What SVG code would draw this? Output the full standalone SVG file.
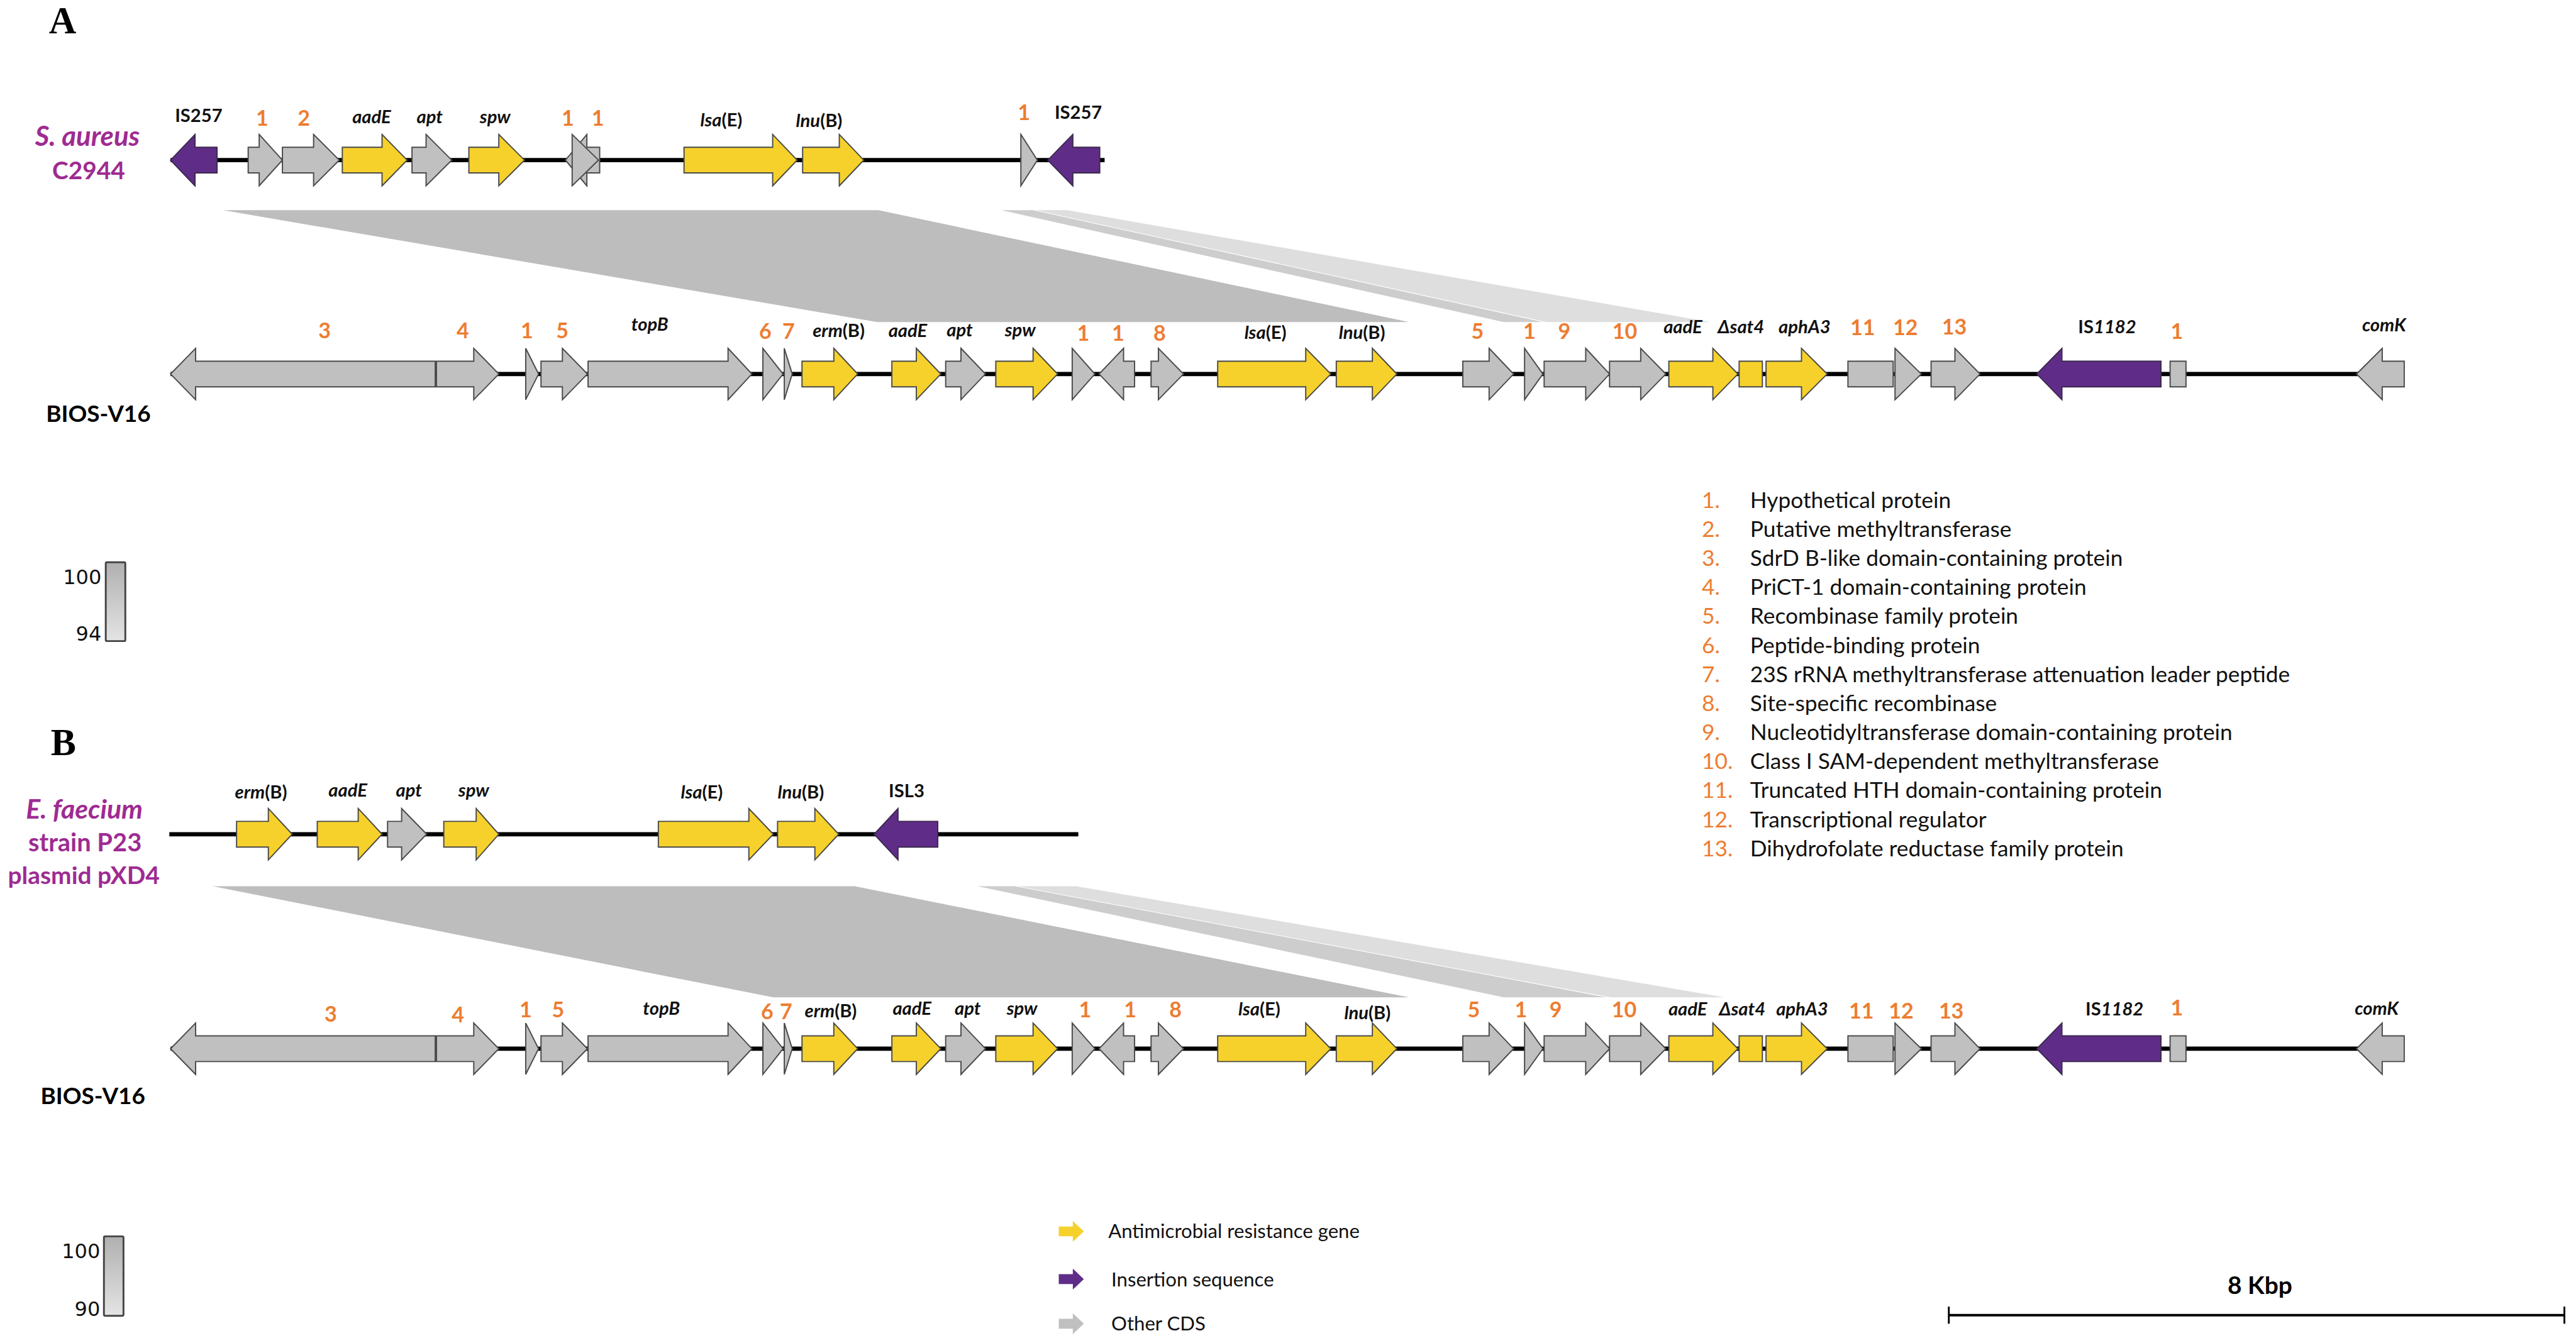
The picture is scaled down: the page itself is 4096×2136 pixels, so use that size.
<svg xmlns="http://www.w3.org/2000/svg" width="4096" height="2136" viewBox="0 0 4096 2136">
<defs>
<linearGradient id="sc" x1="0" y1="0" x2="0" y2="1"><stop offset="0" stop-color="#b0b0b0"/><stop offset="1" stop-color="#e4e4e4"/></linearGradient>
<style>
.g{fill:#c0c0c0;stroke:#4a4a4a;stroke-width:2;stroke-linejoin:miter}
.y{fill:#f6d12b;stroke:#4a4a4a;stroke-width:2}
.p{fill:#5f2d88;stroke:#3b2a4c;stroke-width:2}
.ln{stroke:#000;stroke-width:7;fill:none}
.lb{font-family:Lato,"Liberation Sans",sans-serif;font-weight:700;font-size:30px;text-anchor:middle;fill:#111}
.it{font-style:italic}
.on{font-family:Lato,"Liberation Sans",sans-serif;font-weight:700;font-size:35px;text-anchor:middle;fill:#ed7d31}
.sp{font-family:Lato,"Liberation Sans",sans-serif;font-weight:700;font-size:41px;text-anchor:middle;fill:#9e2b92}
.bios{font-family:Lato,"Liberation Sans",sans-serif;font-weight:700;font-size:38px;text-anchor:middle;fill:#000}
.pl{font-family:"Liberation Serif","Times New Roman",serif;font-weight:700;font-size:62px;fill:#000}
.sv{font-family:"DejaVu Sans",sans-serif;font-size:33px;text-anchor:end;fill:#111}
.lg{font-family:Lato,"Liberation Sans",sans-serif;font-size:36.3px;fill:#111}
.lgn{font-family:Lato,"Liberation Sans",sans-serif;font-size:36.3px;fill:#ed7d31}
.kt{font-family:Lato,"Liberation Sans",sans-serif;font-size:32px;fill:#111}
.r1{fill:#bdbdbd}
.r2{fill:#cdcdcd}
.r3{fill:#dedede}
</style>
</defs>
<rect width="4096" height="2136" fill="#fff"/>
<g transform="scale(0.972)">

<!-- panel letters -->
<text class="pl" x="80" y="55">A</text>
<text class="pl" x="83" y="1236">B</text>

<!-- ribbons (connectors) -->
<g id="connectors">
  <g id="ribbons-A">
    <polygon class="r1" points="365,344 1437,344 2305,527 1435,527"/>
    <polygon class="r2" points="1638,344 1690,344 2524,527 2460,527"/>
    <polygon class="r3" points="1695,344 1746,344 2798,527 2530,527"/>
  </g>
  <g id="ribbons-B">
    <polygon class="r1" points="348,1450 1398,1450 2305,1632 1265,1632"/>
    <polygon class="r2" points="1599,1450 1660,1450 2628,1632 2460,1632"/>
    <polygon class="r3" points="1665,1450 1760,1450 2821,1632 2635,1632"/>
  </g>
</g>

<!-- ===== Panel A: S. aureus C2944 ===== -->
<g id="saureus">
  <text class="sp it" x="143" y="239" style="font-size:45px">S. aureus</text>
  <text class="sp" x="145" y="293" style="font-size:40px">C2944</text>
  <g transform="translate(0,262)">
    <line class="ln" x1="279" y1="0" x2="1807" y2="0"/>
    <g id="a1-IS257a"><path class="p" d="M355 -21H319V-42L279 0L319 42V21H355Z"/><text class="lb" x="325" y="-62">IS257</text></g>
    <g id="a1-g1"><path class="g" d="M406 -21H424V-42L462 0L424 42V21H406Z"/><text class="on" x="429" y="-56">1</text></g>
    <g id="a1-g2"><path class="g" d="M462 -21H513V-42L555 0L513 42V21H462Z"/><text class="on" x="497" y="-56">2</text></g>
    <g id="a1-aadE"><path class="y" d="M560 -21H625V-42L666 0L625 42V21H560Z"/><text class="lb it" x="608" y="-60">aadE</text></g>
    <g id="a1-apt"><path class="g" d="M674 -21H697V-42L739 0L697 42V21H674Z"/><text class="lb it" x="703" y="-60">apt</text></g>
    <g id="a1-spw"><path class="y" d="M767 -21H816V-42L858 0L816 42V21H767Z"/><text class="lb it" x="810" y="-60">spw</text></g>
    <g id="a1-g1b"><path class="g" d="M981 -21H960V-42L925 0L960 42V21H981Z"/><text class="on" x="929" y="-56">1</text></g>
    <g id="a1-g1c"><path class="g" d="M936 -42L979 0L936 42Z"/><text class="on" x="978" y="-56">1</text></g>
    <g id="a1-lsaE"><path class="y" d="M1119 -21H1264V-42L1304 0L1264 42V21H1119Z"/><text class="lb" x="1180" y="-55"><tspan class="it">lsa</tspan>(E)</text></g>
    <g id="a1-lnuB"><path class="y" d="M1313 -21H1373V-42L1413 0L1373 42V21H1313Z"/><text class="lb" x="1340" y="-54"><tspan class="it">lnu</tspan>(B)</text></g>
    <g id="a1-g1d"><path class="g" d="M1670 -42L1697 0L1670 42Z"/><text class="on" x="1675" y="-65">1</text></g>
    <g id="a1-IS257b"><path class="p" d="M1799 -21H1755V-42L1714 0L1755 42V21H1799Z"/><text class="lb" x="1764" y="-68">IS257</text></g>
  </g>
</g>

<!-- ===== Panel A: BIOS-V16 ===== -->
<g id="biosA">
  <text class="bios" x="161" y="690">BIOS-V16</text>
  <g transform="translate(0,612)">
    <line class="ln" x1="279" y1="0" x2="3933" y2="0"/>
    <g id="b1-g3"><path class="g" d="M712 -21H320V-42L279 0L320 42V21H712Z"/><text class="on" x="531" y="-58">3</text></g>
    <g id="b1-g4"><path class="g" d="M714 -21H775V-42L816 0L775 42V21H714Z"/><text class="on" x="757" y="-58">4</text></g>
    <g id="b1-g1"><path class="g" d="M860 -42L881 0L860 42Z"/><text class="on" x="862" y="-58">1</text></g>
    <g id="b1-g5"><path class="g" d="M885 -21H920V-42L961 0L920 42V21H885Z"/><text class="on" x="920" y="-58">5</text></g>
    <g id="b1-topB"><path class="g" d="M962 -21H1191V-42L1230 0L1191 42V21H962Z"/><text class="lb it" x="1063" y="-71">topB</text></g>
    <g id="b1-g6"><path class="g" d="M1248 -42L1281 0L1248 42Z"/><text class="on" x="1252" y="-57">6</text></g>
    <g id="b1-g7"><path class="g" d="M1283 -42L1296 0L1283 42Z"/><text class="on" x="1290" y="-57">7</text></g>
    <g id="b1-ermB"><path class="y" d="M1312 -21H1364V-42L1403 0L1364 42V21H1312Z"/><text class="lb" x="1372" y="-61"><tspan class="it">erm</tspan>(B)</text></g>
    <g id="b1-aadE"><path class="y" d="M1459 -21H1499V-42L1539 0L1499 42V21H1459Z"/><text class="lb it" x="1485" y="-61">aadE</text></g>
    <g id="b1-apt"><path class="g" d="M1547 -21H1572V-42L1612 0L1572 42V21H1547Z"/><text class="lb it" x="1570" y="-62">apt</text></g>
    <g id="b1-spw"><path class="y" d="M1629 -21H1690V-42L1730 0L1690 42V21H1629Z"/><text class="lb it" x="1669" y="-62">spw</text></g>
    <g id="b1-g1b"><path class="g" d="M1754 -42L1791 0L1754 42Z"/><text class="on" x="1772" y="-54">1</text></g>
    <g id="b1-g1c"><path class="g" d="M1856 -21H1838V-42L1798 0L1838 42V21H1856Z"/><text class="on" x="1829" y="-54">1</text></g>
    <g id="b1-g8"><path class="g" d="M1883 -21H1895V-42L1936 0L1895 42V21H1883Z"/><text class="on" x="1897" y="-54">8</text></g>
    <g id="b1-lsaE"><path class="y" d="M1992 -21H2136V-42L2177 0L2136 42V21H1992Z"/><text class="lb" x="2070" y="-57"><tspan class="it">lsa</tspan>(E)</text></g>
    <g id="b1-lnuB"><path class="y" d="M2186 -21H2245V-42L2285 0L2245 42V21H2186Z"/><text class="lb" x="2228" y="-57"><tspan class="it">lnu</tspan>(B)</text></g>
    <g id="b1-g5b"><path class="g" d="M2393 -21H2436V-42L2476 0L2436 42V21H2393Z"/><text class="on" x="2417" y="-57">5</text></g>
    <g id="b1-g1d"><path class="g" d="M2494 -42L2524 0L2494 42Z"/><text class="on" x="2502" y="-57">1</text></g>
    <g id="b1-g9"><path class="g" d="M2526 -21H2594V-42L2633 0L2594 42V21H2526Z"/><text class="on" x="2559" y="-57">9</text></g>
    <g id="b1-g10"><path class="g" d="M2633 -21H2684V-42L2725 0L2684 42V21H2633Z"/><text class="on" x="2658" y="-57">10</text></g>
    <g id="b1-aadE2"><path class="y" d="M2730 -21H2802V-42L2843 0L2802 42V21H2730Z"/><text class="lb it" x="2753" y="-67">aadE</text></g>
    <g id="b1-sat4"><path class="y" d="M2845 -21H2883V21H2845Z"/><text class="lb it" x="2848" y="-67">Δsat4</text></g>
    <g id="b1-aphA3"><path class="y" d="M2889 -21H2947V-42L2989 0L2947 42V21H2889Z"/><text class="lb it" x="2952" y="-67">aphA3</text></g>
    <g id="b1-g11"><path class="g" d="M3023 -21H3097V21H3023Z"/><text class="on" x="3047" y="-64">11</text></g>
    <g id="b1-g12"><path class="g" d="M3100 -42L3143 0L3100 42Z"/><text class="on" x="3117" y="-64">12</text></g>
    <g id="b1-g13"><path class="g" d="M3159 -21H3198V-42L3239 0L3198 42V21H3159Z"/><text class="on" x="3197" y="-65">13</text></g>
    <g id="b1-IS1182"><path class="p" d="M3535 -21H3373V-42L3332 0L3373 42V21H3535Z"/><text class="lb" x="3447" y="-67">IS<tspan class="it">1182</tspan></text></g>
    <g id="b1-g1e"><path class="g" d="M3550 -21H3576V21H3550Z"/><text class="on" x="3561" y="-57">1</text></g>
    <g id="b1-comK"><path class="g" d="M3933 -21H3897V-42L3855 0L3897 42V21H3933Z"/><text class="lb it" x="3900" y="-70">comK</text></g>
  </g>
</g>

<!-- scale A -->
<g id="identityA">
  <rect x="173" y="920" width="32" height="129" rx="2" fill="url(#sc)" stroke="#444" stroke-width="3"/>
  <text class="sv" x="166" y="956">100</text>
  <text class="sv" x="166" y="1048">94</text>
</g>

<!-- legend list -->
<g id="gene-key">
  <text class="lgn" x="2784" y="831">1.</text><text class="lg" x="2863" y="831">Hypothetical protein</text>
  <text class="lgn" x="2784" y="878.5">2.</text><text class="lg" x="2863" y="878.5">Putative methyltransferase</text>
  <text class="lgn" x="2784" y="926">3.</text><text class="lg" x="2863" y="926">SdrD B-like domain-containing protein</text>
  <text class="lgn" x="2784" y="973.5">4.</text><text class="lg" x="2863" y="973.5">PriCT-1 domain-containing protein</text>
  <text class="lgn" x="2784" y="1021">5.</text><text class="lg" x="2863" y="1021">Recombinase family protein</text>
  <text class="lgn" x="2784" y="1068.5">6.</text><text class="lg" x="2863" y="1068.5">Peptide-binding protein</text>
  <text class="lgn" x="2784" y="1116">7.</text><text class="lg" x="2863" y="1116">23S rRNA methyltransferase attenuation leader peptide</text>
  <text class="lgn" x="2784" y="1163.5">8.</text><text class="lg" x="2863" y="1163.5">Site-specific recombinase</text>
  <text class="lgn" x="2784" y="1211">9.</text><text class="lg" x="2863" y="1211">Nucleotidyltransferase domain-containing protein</text>
  <text class="lgn" x="2784" y="1258.5">10.</text><text class="lg" x="2863" y="1258.5">Class I SAM-dependent methyltransferase</text>
  <text class="lgn" x="2784" y="1306">11.</text><text class="lg" x="2863" y="1306">Truncated HTH domain-containing protein</text>
  <text class="lgn" x="2784" y="1353.5">12.</text><text class="lg" x="2863" y="1353.5">Transcriptional regulator</text>
  <text class="lgn" x="2784" y="1401">13.</text><text class="lg" x="2863" y="1401">Dihydrofolate reductase family protein</text>
</g>

<!-- ===== Panel B: E. faecium ===== -->
<g id="efaecium">
  <text class="sp it" x="138" y="1340" style="font-size:44px">E. faecium</text>
  <text class="sp" x="139" y="1393">strain P23</text>
  <text class="sp" x="137" y="1446" style="font-size:40px">plasmid pXD4</text>
  <g transform="translate(0,1365)">
    <line class="ln" x1="277" y1="0" x2="1764" y2="0"/>
    <g id="a2-ermB"><path class="y" d="M387 -21H439V-42L478 0L439 42V21H387Z"/><text class="lb" x="427" y="-58"><tspan class="it">erm</tspan>(B)</text></g>
    <g id="a2-aadE"><path class="y" d="M519 -21H586V-42L625 0L586 42V21H519Z"/><text class="lb it" x="569" y="-62">aadE</text></g>
    <g id="a2-apt"><path class="g" d="M634 -21H657V-42L698 0L657 42V21H634Z"/><text class="lb it" x="669" y="-62">apt</text></g>
    <g id="a2-spw"><path class="y" d="M726 -21H779V-42L816 0L779 42V21H726Z"/><text class="lb it" x="775" y="-62">spw</text></g>
    <g id="a2-lsaE"><path class="y" d="M1077 -21H1225V-42L1265 0L1225 42V21H1077Z"/><text class="lb" x="1148" y="-58"><tspan class="it">lsa</tspan>(E)</text></g>
    <g id="a2-lnuB"><path class="y" d="M1272 -21H1333V-42L1372 0L1333 42V21H1272Z"/><text class="lb" x="1310" y="-58"><tspan class="it">lnu</tspan>(B)</text></g>
    <g id="a2-ISL3"><path class="p" d="M1534 -21H1469V-42L1430 0L1469 42V21H1534Z"/><text class="lb" x="1483" y="-60">ISL3</text></g>
  </g>
</g>

<!-- ===== Panel B: BIOS-V16 ===== -->
<g id="biosB">
  <text class="bios" x="152" y="1807">BIOS-V16</text>
  <g transform="translate(0,1716)">
    <line class="ln" x1="279" y1="0" x2="3933" y2="0"/>
    <g id="b2-g3"><path class="g" d="M712 -21H320V-42L279 0L320 42V21H712Z"/><text class="on" x="541" y="-44">3</text></g>
    <g id="b2-g4"><path class="g" d="M714 -21H775V-42L816 0L775 42V21H714Z"/><text class="on" x="749" y="-43">4</text></g>
    <g id="b2-g1"><path class="g" d="M860 -42L881 0L860 42Z"/><text class="on" x="860" y="-51">1</text></g>
    <g id="b2-g5"><path class="g" d="M885 -21H920V-42L961 0L920 42V21H885Z"/><text class="on" x="913" y="-51">5</text></g>
    <g id="b2-topB"><path class="g" d="M962 -21H1191V-42L1230 0L1191 42V21H962Z"/><text class="lb it" x="1082" y="-56">topB</text></g>
    <g id="b2-g6"><path class="g" d="M1248 -42L1281 0L1248 42Z"/><text class="on" x="1255" y="-48">6</text></g>
    <g id="b2-g7"><path class="g" d="M1283 -42L1296 0L1283 42Z"/><text class="on" x="1286" y="-48">7</text></g>
    <g id="b2-ermB"><path class="y" d="M1312 -21H1364V-42L1403 0L1364 42V21H1312Z"/><text class="lb" x="1359" y="-51"><tspan class="it">erm</tspan>(B)</text></g>
    <g id="b2-aadE"><path class="y" d="M1459 -21H1499V-42L1539 0L1499 42V21H1459Z"/><text class="lb it" x="1492" y="-56">aadE</text></g>
    <g id="b2-apt"><path class="g" d="M1547 -21H1572V-42L1612 0L1572 42V21H1547Z"/><text class="lb it" x="1583" y="-56">apt</text></g>
    <g id="b2-spw"><path class="y" d="M1629 -21H1690V-42L1730 0L1690 42V21H1629Z"/><text class="lb it" x="1672" y="-56">spw</text></g>
    <g id="b2-g1b"><path class="g" d="M1754 -42L1791 0L1754 42Z"/><text class="on" x="1775" y="-51">1</text></g>
    <g id="b2-g1c"><path class="g" d="M1856 -21H1838V-42L1798 0L1838 42V21H1856Z"/><text class="on" x="1849" y="-51">1</text></g>
    <g id="b2-g8"><path class="g" d="M1883 -21H1895V-42L1936 0L1895 42V21H1883Z"/><text class="on" x="1923" y="-51">8</text></g>
    <g id="b2-lsaE"><path class="y" d="M1992 -21H2136V-42L2177 0L2136 42V21H1992Z"/><text class="lb" x="2060" y="-54"><tspan class="it">lsa</tspan>(E)</text></g>
    <g id="b2-lnuB"><path class="y" d="M2186 -21H2245V-42L2285 0L2245 42V21H2186Z"/><text class="lb" x="2237" y="-48"><tspan class="it">lnu</tspan>(B)</text></g>
    <g id="b2-g5b"><path class="g" d="M2393 -21H2436V-42L2476 0L2436 42V21H2393Z"/><text class="on" x="2411" y="-51">5</text></g>
    <g id="b2-g1d"><path class="g" d="M2494 -42L2524 0L2494 42Z"/><text class="on" x="2488" y="-51">1</text></g>
    <g id="b2-g9"><path class="g" d="M2526 -21H2594V-42L2633 0L2594 42V21H2526Z"/><text class="on" x="2545" y="-51">9</text></g>
    <g id="b2-g10"><path class="g" d="M2633 -21H2684V-42L2725 0L2684 42V21H2633Z"/><text class="on" x="2657" y="-51">10</text></g>
    <g id="b2-aadE2"><path class="y" d="M2730 -21H2802V-42L2843 0L2802 42V21H2730Z"/><text class="lb it" x="2761" y="-54">aadE</text></g>
    <g id="b2-sat4"><path class="y" d="M2845 -21H2883V21H2845Z"/><text class="lb it" x="2850" y="-54">Δsat4</text></g>
    <g id="b2-aphA3"><path class="y" d="M2889 -21H2947V-42L2989 0L2947 42V21H2889Z"/><text class="lb it" x="2948" y="-54">aphA3</text></g>
    <g id="b2-g11"><path class="g" d="M3023 -21H3097V21H3023Z"/><text class="on" x="3045" y="-49">11</text></g>
    <g id="b2-g12"><path class="g" d="M3100 -42L3143 0L3100 42Z"/><text class="on" x="3110" y="-49">12</text></g>
    <g id="b2-g13"><path class="g" d="M3159 -21H3198V-42L3239 0L3198 42V21H3159Z"/><text class="on" x="3192" y="-49">13</text></g>
    <g id="b2-IS1182"><path class="p" d="M3535 -21H3373V-42L3332 0L3373 42V21H3535Z"/><text class="lb" x="3459" y="-54">IS<tspan class="it">1182</tspan></text></g>
    <g id="b2-g1e"><path class="g" d="M3550 -21H3576V21H3550Z"/><text class="on" x="3561" y="-54">1</text></g>
    <g id="b2-comK"><path class="g" d="M3933 -21H3897V-42L3855 0L3897 42V21H3933Z"/><text class="lb it" x="3888" y="-56">comK</text></g>
  </g>
</g>

<!-- scale B -->
<g id="identityB">
  <rect x="170" y="2023" width="32" height="130" rx="2" fill="url(#sc)" stroke="#444" stroke-width="3"/>
  <text class="sv" x="164" y="2059">100</text>
  <text class="sv" x="164" y="2153">90</text>
</g>

<!-- type legend -->
<g id="type-key">
  <path fill="#f6d12b" d="M1732 2007H1755V1998L1773 2015L1755 2032V2023H1732Z"/>
  <text class="kt" x="1813" y="2026">Antimicrobial resistance gene</text>
  <path fill="#5f2d88" d="M1732 2085H1755V2076L1773 2093L1755 2110V2101H1732Z"/>
  <text class="kt" x="1818" y="2105">Insertion sequence</text>
  <path fill="#c0c0c0" d="M1732 2158H1755V2149L1773 2166L1755 2183V2174H1732Z"/>
  <text class="kt" x="1818" y="2177">Other CDS</text>
</g>

<!-- size bar -->
<g id="sizebar">
  <line x1="3188" y1="2152" x2="4195" y2="2152" stroke="#000" stroke-width="4"/>
  <line x1="3188" y1="2138" x2="3188" y2="2166" stroke="#000" stroke-width="3"/>
  <line x1="4195" y1="2138" x2="4195" y2="2166" stroke="#000" stroke-width="3"/>
  <text class="bios" x="3697" y="2117" style="font-size:40px">8 Kbp</text>
</g>

</g>
</svg>
